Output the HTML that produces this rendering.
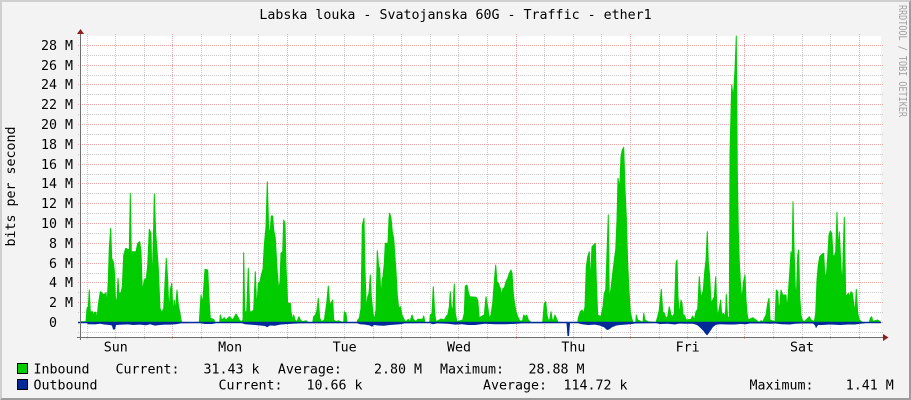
<!DOCTYPE html>
<html><head><meta charset="utf-8">
<style>
html,body{margin:0;padding:0;background:#f3f3f3}
svg{display:block}
text{font-family:"DejaVu Sans Mono","Liberation Mono",monospace;font-size:13.3px;fill:#000}
</style></head>
<body>
<svg width="911" height="400" viewBox="0 0 911 400" xmlns="http://www.w3.org/2000/svg">
<rect width="911" height="400" fill="#f3f3f3"/>
<path d="M0,0H911L909,2H2V398L0,400Z" fill="#cfcfcf"/>
<path d="M911,0V400H0L2,398H909V2Z" fill="#9c9c9c"/>
<rect x="81" y="36" width="800" height="301" fill="#ffffff"/>

<path d="M78,55.5H883M78,75.5H883M78,94.5H883M78,114.5H883M78,134.5H883M78,154.5H883M78,174.5H883M78,193.5H883M78,213.5H883M78,233.5H883M78,253.5H883M78,273.5H883M78,292.5H883M78,312.5H883M78,332.5H883" stroke="#c8c8c8" stroke-width="1" stroke-dasharray="1 1" fill="none"/>
<path d="M78,45.5H883M78,65.5H883M78,84.5H883M78,104.5H883M78,124.5H883M78,144.5H883M78,164.5H883M78,183.5H883M78,203.5H883M78,223.5H883M78,243.5H883M78,263.5H883M78,282.5H883M78,302.5H883M78,322.5H883" stroke="#eda6a6" stroke-width="1" stroke-dasharray="1 1" fill="none"/>
<path d="M87.5,34V340M115.5,34V340M144.5,34V340M201.5,34V340M230.5,34V340M258.5,34V340M315.5,34V340M344.5,34V340M373.5,34V340M430.5,34V340M458.5,34V340M487.5,34V340M544.5,34V340M573.5,34V340M601.5,34V340M659.5,34V340M687.5,34V340M716.5,34V340M773.5,34V340M802.5,34V340M830.5,34V340" stroke="#c8c8c8" stroke-width="1" stroke-dasharray="1 1" fill="none"/>
<path d="M172.5,34V340M287.5,34V340M401.5,34V340M516.5,34V340M630.5,34V340M744.5,34V340M859.5,34V340" stroke="#eda6a6" stroke-width="1" stroke-dasharray="1 1" fill="none"/>

<path fill="#00cc00" stroke="#00cc00" stroke-width="1" stroke-linejoin="round" d="M81,322.5 L81,321.7 L86,321.7 L87,308.3 L88.3,306.7 L89.3,290 L90.3,311.7 L92.7,311.7 L93,318.3 L94.3,312.3 L96,312.3 L96.7,321.7 L98.3,305 L100.3,291.7 L101.7,292.7 L103.7,295 L106,292.7 L107,305 L108.3,280 L109.3,248.3 L110.7,228.3 L111.7,258.3 L113.3,261.7 L114.3,270 L115.3,296.7 L116.7,305 L118,278.3 L119,293.3 L121,292.7 L122.3,286.7 L123.7,255 L125.7,248.3 L129.3,250 L130.3,193.3 L131.3,251.7 L136,251.7 L137.7,243.3 L139.7,241.7 L141,251.7 L142.3,291.7 L144.3,280 L146.3,278.3 L147.7,265 L149.3,229.3 L151,233.3 L152,286.7 L153.3,241.7 L154.3,194 L155.7,233.3 L157,250 L158.3,268.3 L160,308.3 L161.7,312.7 L163.7,308.3 L165,283.3 L166.3,258.3 L167.7,280 L169,313.3 L170.3,290 L171.7,283.3 L173,313.3 L174.3,300 L175.3,311.7 L177,290 L178.3,305 L180,313.3 L181,320 L181.7,322.5 L199.3,322.5 L201,295 L202.7,303.3 L205,269.3 L207.7,270 L209.3,303.3 L210.3,318.3 L213.7,319.3 L215,322.5 L219.7,322.5 L220.3,315 L221.7,320 L224.3,317.7 L226,320 L229.3,316.7 L231,318.3 L232.7,320 L236,314 L237.7,316.7 L239.3,320 L241,321.7 L243,320 L243.7,252.7 L244.7,311.7 L246.7,311.7 L248.3,268.3 L249.7,311.7 L251.7,311.7 L253.7,310 L255.3,271.7 L256.7,310 L258.3,283.3 L260,281.7 L261.3,275 L263,269.3 L264.3,245 L266,226.7 L267.3,181.7 L268.7,230 L270.3,230 L271.3,216 L272.7,216 L273.7,230 L275.3,238.3 L277,268.3 L278.7,290 L280,281.7 L281,253.3 L282.7,251.7 L283.7,220 L285,223.3 L286,266.7 L287.7,303.3 L290.3,303.3 L291,311.7 L292.7,320 L293.7,315 L295,320 L297,321.7 L299,316.7 L300.3,320 L302.7,321.7 L306,320.7 L308.3,322.5 L312.7,322.5 L313.7,316.7 L315.3,315 L316.7,311.7 L318.3,298.3 L319.7,318.3 L321.7,321.7 L324.3,320 L325.3,313.3 L326.7,303.3 L328.3,286 L329.7,305 L331,303.3 L332.7,300 L333.7,320 L336,321.7 L338.3,320.7 L341,321.7 L343.7,322.5 L344.3,311.7 L346,313.3 L347,322.5 L357,322.5 L357.7,320 L359.3,318.3 L361,308.3 L362.3,225 L364,218.3 L365,270 L366.3,310 L367.7,296.7 L369,293.3 L370.3,275 L371.3,296.7 L373,313.3 L374.3,320 L376,310 L377.3,250.7 L378.7,266.7 L379.7,268.3 L381,300 L382,280 L383,276.7 L384.3,263.3 L385.3,243.3 L388,243.3 L389,218.3 L389.7,213.3 L391,218.3 L392.3,231.7 L393.7,238.3 L394.7,253.3 L396,271.7 L397.3,295 L398.7,308.3 L400.3,306.7 L402,315 L404.3,320 L406,321.7 L408.3,319.3 L410,321.7 L412,315 L413.3,319.3 L416,321.7 L417.7,319.3 L422.7,319.3 L423.7,316 L425,322.5 L429.7,322.5 L430.3,315 L432,313.3 L433.3,286.7 L434.7,313.3 L436,321.7 L439.3,320 L441,319 L444.3,320 L446,316.7 L447.7,315 L449.3,306.7 L450.3,291.7 L451.7,311.7 L453,306.7 L454.3,284 L455.3,313.3 L457,321.7 L462.7,320 L464.3,313.3 L465.3,286 L467,285 L468.3,291.7 L469.7,296.7 L476,297.3 L477.7,300 L479.3,318.3 L481,316.7 L484.3,315 L486,296.7 L487.7,306.7 L489.3,318.3 L491,315 L492.7,303.3 L494.3,281.7 L495.7,265 L497,281.7 L498.3,283.3 L500.3,288.3 L501.7,295 L503,288.3 L504.3,288.3 L506,281.7 L507.7,278.3 L509.3,273.3 L511,270 L512,273.3 L513.3,293.3 L514.3,301.7 L516,311.7 L517.7,316.7 L519.3,320 L521,321.7 L522.7,320 L523.7,315 L525.3,316.7 L526.7,315 L528.3,320 L531,322.5 L542.7,322.5 L544.3,303.3 L545.7,301.7 L547,315 L548.3,320 L549.7,320 L551,311.7 L552.3,320 L553.7,320 L555,315 L557,320 L558.3,322.5 L577.7,322.5 L578.3,318.3 L580.3,311.7 L582,310 L583.7,313.3 L585,306.7 L586.3,266.7 L587.7,256.7 L589.3,251.7 L590.3,283.3 L592,246.7 L593.7,245 L595.3,243.3 L596.3,280 L597.7,315 L601,316.7 L603,306.7 L604.3,293.3 L605.7,290 L607,253.3 L608.3,215 L609.3,300 L611,288.3 L612.7,273.3 L614.3,260 L615.7,250 L617,220 L618,178.3 L619.7,188.3 L621,156.7 L622.3,150 L623.7,147.3 L625,188.3 L626.3,216.7 L627.7,263.3 L629,290 L630.3,311.7 L631.7,318.3 L633,322.5 L635.7,322.5 L636.3,315 L637.7,320 L643,322.5 L643.7,313.3 L645,320 L647.7,321.7 L656,322.5 L657.7,316.7 L659.3,310 L661.3,289.3 L662.7,311.7 L664.3,313.3 L666,318.3 L667.7,316.7 L669.3,306.7 L671,315 L672.7,316.7 L674.3,313.3 L676,263.3 L677,260 L678,296.7 L679.3,315 L681,300 L682,303.3 L683,315 L684.3,315 L686.3,320 L691,319.3 L692.7,316 L694.3,320 L696,311.7 L697.7,309.3 L699.3,276.7 L700.7,296 L702,295 L703.3,290 L704.7,271.7 L706,260 L707.3,231.7 L708.3,261.7 L709.7,276.7 L711,303.3 L712.7,300 L714.3,296.7 L715.7,276.7 L716.7,303.3 L717.7,316.7 L719.3,308.3 L720.7,300 L721.7,315 L723.3,313.3 L724.7,316.7 L725.7,310 L726.3,294.3 L727.7,318.3 L729.3,316.7 L730,153 L731.7,85 L733.3,98 L735,70 L736.3,36 L737.3,170 L738.3,230 L739.3,262 L740.7,287 L742,300 L743.3,283 L745,275 L746,300 L747,313.3 L748.3,320 L752.7,317.7 L756,320 L759.3,322.5 L761,320.7 L762.7,321.7 L766,315 L767.7,303.3 L769,298.3 L770,320 L775,321.7 L776.3,290 L777.7,291.7 L778.7,310 L780,303.3 L781,290 L782.7,295 L786,295 L787,310 L788.3,293.3 L789.7,273.3 L791,251.7 L792,265 L793,201.7 L794,246.7 L795.3,286.7 L796.3,300 L797.7,255 L798.7,250 L799.7,296.7 L801,315 L802.3,320 L804.3,321.7 L809.3,316.7 L811,320 L814.3,321.7 L815.7,313.3 L817,280 L818.3,265 L819.7,256.7 L822.3,254 L823.7,253.3 L824.7,273.3 L826.3,276.7 L827.7,256.7 L829,235 L830.3,231 L831.7,233.3 L833,255 L834.3,256.7 L835.7,251.7 L837,212.3 L838,251.7 L839.3,231.7 L840.7,261.7 L842.3,286.7 L843.3,250 L844.3,217.3 L845.7,296.7 L848.3,293.3 L849.7,296.7 L851,291.7 L852.3,293.3 L853.7,303.3 L855,313.3 L856.3,289.3 L857.7,313.3 L859.3,320 L862.7,322.5 L869.3,322.5 L870.3,318.3 L871.7,316.7 L872.7,321.3 L877.7,320 L879.3,321.3 L881,322.5 Z"/>

<path fill="#002a97" d="M78,321.7 L881,321.7 L881,323.3 L866,323.3 L860,323.8 L855,324.5 L848,324.5 L840,325 L830,324.5 L822,325 L818,325 L816,328.3 L815,325.5 L813,323.5 L802,323.5 L795,323.8 L790,324.5 L782,324.2 L775,323.5 L770,323.8 L765,323.5 L750,323.5 L746,324.2 L740,324 L735,324.5 L728,324.5 L720,324.2 L716,324.8 L713,327 L711,330 L709,333 L707,335.5 L705,333 L703,330.5 L700,327.5 L697,325 L693,323.8 L685,323.8 L681,323.6 L678,323.8 L675,324.5 L668,323.8 L660,324 L656,323.3 L635,323.5 L630,324.2 L625,324.6 L620,325 L616,325.6 L612,327.2 L609,329.5 L607,330 L604,327.2 L600,325.6 L595,324.6 L588,325 L582,324.2 L578,323.3 L570,323.3 L569,336 L567.5,336 L566.5,323.3 L522,323.4 L515,323.9 L505,324.2 L495,324.2 L485,323.8 L481,324.2 L475,325 L468,325 L462,324.2 L455,324.6 L448,323.8 L437,323.4 L433,324.2 L430,323.3 L405,323.4 L400,324.2 L395,324.6 L390,325 L384,325.8 L378,325.5 L374,325 L372,326.8 L370,325.5 L365,324.6 L360,324.2 L357,323.3 L300,323.4 L292,323.8 L285,324.2 L280,324.6 L275,325.8 L270,325.5 L267,327.3 L265,326 L260,325.5 L255,325 L250,324.6 L245,324.2 L242,323.3 L216,323.3 L212,324 L205,324 L200,323.3 L181,323.4 L176,324.2 L170,324.6 L165,324.6 L160,325 L155,325.6 L150,324.2 L146,325.3 L140,324.6 L133,325 L128,324.4 L122,324.6 L116,325 L115,329.5 L113,329.5 L112,325.6 L110,325 L105,324.6 L100,323.8 L95,324.4 L88,324.2 L87,323.3 L78,323.3 Z"/>

<line x1="80.5" y1="33" x2="80.5" y2="340" stroke="#6e6e6e" stroke-width="1"/>
<line x1="77" y1="337.5" x2="884" y2="337.5" stroke="#6e6e6e" stroke-width="1"/>
<polygon points="77,34 84,34 80.5,29" fill="#8f1d1d"/>
<polygon points="883,334 883,341 888.5,337.5" fill="#8f1d1d"/>

<text x="455.5" y="19" text-anchor="middle">Labska louka - Svatojanska 60G - Traffic - ether1</text>

<g text-anchor="end">
<text x="73" y="50">28 M</text>
<text x="73" y="70">26 M</text>
<text x="73" y="89">24 M</text>
<text x="73" y="109">22 M</text>
<text x="73" y="129">20 M</text>
<text x="73" y="149">18 M</text>
<text x="73" y="169">16 M</text>
<text x="73" y="188">14 M</text>
<text x="73" y="208">12 M</text>
<text x="73" y="228">10 M</text>
<text x="73" y="248">8 M</text>
<text x="73" y="268">6 M</text>
<text x="73" y="287">4 M</text>
<text x="73" y="307">2 M</text>
<text x="57" y="327">0</text>
</g>

<text transform="translate(15,186.5) rotate(-90)" text-anchor="middle">bits per second</text>

<text transform="translate(899,5) rotate(90)" style="font-size:10.5px;fill:#a0a0a0" textLength="112" lengthAdjust="spacingAndGlyphs">RRDTOOL / TOBI OETIKER</text>

<g text-anchor="middle">
<text x="115.8" y="351.5">Sun</text>
<text x="230.2" y="351.5">Mon</text>
<text x="344.6" y="351.5">Tue</text>
<text x="459" y="351.5">Wed</text>
<text x="573.4" y="351.5">Thu</text>
<text x="687.6" y="351.5">Fri</text>
<text x="802" y="351.5">Sat</text>
</g>

<rect x="17.5" y="363.5" width="10" height="10" fill="#00cc00" stroke="#000" stroke-width="1"/>
<rect x="17.5" y="379.5" width="10" height="10" fill="#002a97" stroke="#000" stroke-width="1"/>
<text x="33.5" y="373.5">Inbound</text>
<text x="115.5" y="373.5">Current:</text>
<text x="259.5" y="373.5" text-anchor="end">31.43 k</text>
<text x="277.9" y="373.5">Average:</text>
<text x="422" y="373.5" text-anchor="end">2.80 M</text>
<text x="440" y="373.5">Maximum:</text>
<text x="584.5" y="373.5" text-anchor="end">28.88 M</text>

<text x="33.5" y="389.5">Outbound</text>
<text x="218.5" y="389.5">Current:</text>
<text x="362.5" y="389.5" text-anchor="end">10.66 k</text>
<text x="483" y="389.5">Average:</text>
<text x="627.5" y="389.5" text-anchor="end">114.72 k</text>
<text x="749.5" y="389.5">Maximum:</text>
<text x="893.8" y="389.5" text-anchor="end">1.41 M</text>
</svg>
</body></html>
